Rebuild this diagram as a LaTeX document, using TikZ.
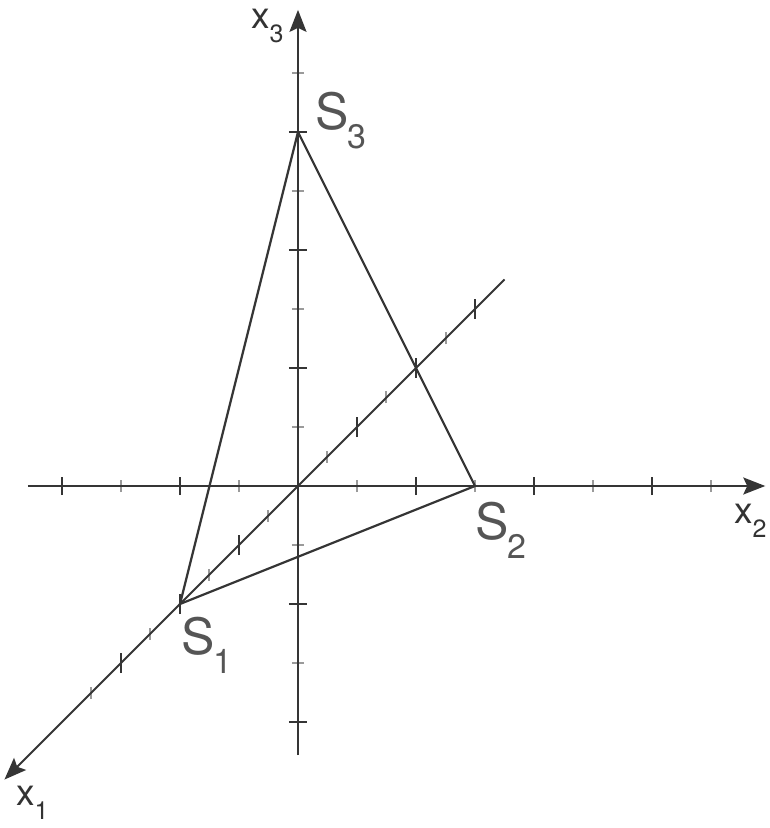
\documentclass[tikz,border=0pt]{standalone}
\usepackage{fontspec}
\setmainfont{TeX Gyre Heros}
\usetikzlibrary{arrows.meta}
\definecolor{linec}{HTML}{353535}
\definecolor{tickg}{HTML}{9A9A9A}
\definecolor{labS}{HTML}{555555}
\definecolor{labX}{HTML}{333333}
\newcommand\Slab[2]{\fontsize{50}{50}\selectfont #1\kern-1.5pt\raisebox{-19pt}{\fontsize{34}{34}\selectfont #2}}
\newcommand\Xlab[2]{\fontsize{37}{37}\selectfont #1\kern0pt\raisebox{-14pt}{\fontsize{25}{25}\selectfont #2}}
\tikzset{
  axisline/.style={draw=linec, line width=2pt, -{Stealth[length=22pt,width=17pt,inset=4pt]}},
  triline/.style={draw=linec, line width=2.2pt, line join=miter},
  darktick/.style={draw=linec, line width=2.4pt},
  graytick/.style={draw=tickg, line width=2pt},
  slabel/.style={anchor=base west, inner sep=0pt, text=labS},
  xlabel/.style={anchor=base west, inner sep=0pt, text=labX},
}
\begin{document}
\begin{tikzpicture}[x={(-29.5pt,-29.5pt)}, y={(59pt,0pt)}, z={(0pt,59pt)}]
\useasboundingbox (-298pt,-342pt) rectangle (472pt,486pt);
% axis end points
\coordinate (O) at (0,0,0);
\coordinate (a1s) at (-7,0,0);
\coordinate (a1e) at (9.95,0,0);
\coordinate (a2s) at (0,-4.58,0);
\coordinate (a2e) at (0,7.92,0);
\coordinate (a3s) at (0,0,-4.56);
\coordinate (a3e) at (0,0,8.07);
% ticks
\foreach \i in {-4,...,7}{
  \ifnum\i=0\relax\else
    \ifodd\i
      \draw[graytick] ([yshift=-6pt]0,\i,0) -- ([yshift=6pt]0,\i,0);
      \draw[graytick] ([xshift=-6pt]0,0,\i) -- ([xshift=6pt]0,0,\i);
    \else
      \draw[darktick] ([yshift=-9pt]0,\i,0) -- ([yshift=9pt]0,\i,0);
      \draw[darktick] ([xshift=-9pt]0,0,\i) -- ([xshift=9pt]0,0,\i);
    \fi
  \fi
}
\foreach \i in {-6,...,7}{
  \ifnum\i=0\relax\else
    \ifodd\i
      \draw[graytick] ([yshift=-6pt]\i,0,0) -- ([yshift=6pt]\i,0,0);
    \else
      \draw[darktick] ([yshift=-10pt]\i,0,0) -- ([yshift=10pt]\i,0,0);
    \fi
  \fi
}
% axes
\draw[axisline] (a2s) -- (a2e);
\draw[axisline] (a3s) -- (a3e);
\draw[axisline] (a1s) -- (a1e);
% triangle
\coordinate (S1) at (4,0,0);
\coordinate (S2) at (0,3,0);
\coordinate (S3) at (0,0,6);
\draw[triline] (S1) -- (S2) -- (S3) -- cycle;
% labels
\node[slabel] (lS1) at (-117pt,-168pt) {\Slab{S}{1}};
\node[slabel] (lS2) at (177pt,-53pt) {\Slab{S}{2}};
\node[slabel] (lS3) at (17pt,356pt) {\Slab{S}{3}};
\node[xlabel] (lx1) at (-282pt,-319pt) {\Xlab{x}{1}};
\node[xlabel] (lx2) at (436pt,-37pt) {\Xlab{x}{2}};
\node[xlabel] (lx3) at (-47pt,457pt) {\Xlab{x}{3}};
\end{tikzpicture}
\end{document}
